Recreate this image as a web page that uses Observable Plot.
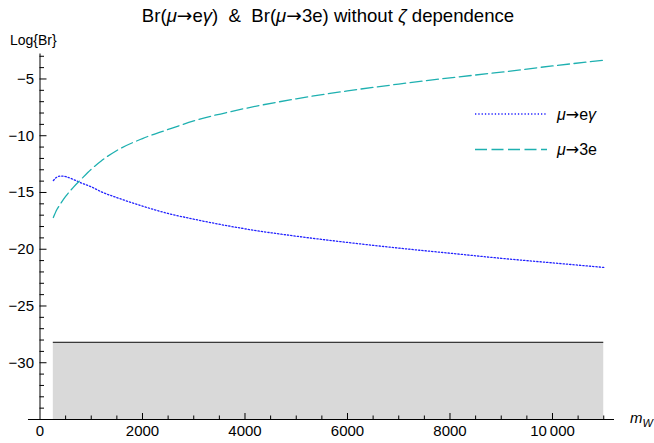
<!DOCTYPE html>
<html><head><meta charset="utf-8">
<script src="https://cdn.jsdelivr.net/npm/d3@7"></script>
<script src="https://cdn.jsdelivr.net/npm/@observablehq/plot@0.6"></script>
<style>
body{margin:0;background:#fff;}
#wrap{position:relative;width:654px;height:443px;font-family:"Liberation Sans",Arial,sans-serif;color:#000;}
#wrap svg{display:block;}
.abs{position:absolute;white-space:nowrap;line-height:1;}
.arr{font-family:"DejaVu Sans",sans-serif;}
</style></head><body>
<div id="wrap"></div>
<script>
// ---- data ----
const mW = [260, 330, 400, 500, 650, 800, 1000, 1200, 1500, 2000, 2500, 3000, 4000, 5000, 6000, 7000, 8000, 9000, 10000, 11000];
const brMuEGamma = [-13.95, -13.65, -13.55, -13.6, -13.85, -14.15, -14.5, -14.95, -15.45, -16.2, -16.85, -17.35, -18.2, -18.85, -19.4, -19.9, -20.35, -20.8, -21.2, -21.6];
const brMu3e = [-17.2, -16.5, -16.0, -15.35, -14.55, -13.85, -12.95, -12.2, -11.3, -10.25, -9.45, -8.7, -7.6, -6.75, -6.05, -5.45, -4.9, -4.4, -3.85, -3.35];
const boundRange = [260, 11000];
const boundLevel = -28.2;
const xMajorTicks = [0, 2000, 4000, 6000, 8000, 10000];
const xMinorTicks = [500, 1000, 1500, 2500, 3000, 3500, 4500, 5000, 5500, 6500, 7000, 7500, 8500, 9000, 9500, 10500, 11000];
const yMajorTicks = [-30, -25, -20, -15, -10, -5];
const yMinorTicks = [-34, -33, -32, -31, -29, -28, -27, -26, -24, -23, -22, -21, -19, -18, -17, -16, -14, -13, -12, -11, -9, -8, -7, -6, -4, -3];
const xDomain = [0, 11210];
const yDomain = [-35, -2.8];
const seriesNames = ["μ→eγ", "μ→3e"];

const W = 654, H = 443, mL = 39.5, mR = 40, mT = 53.5, mB = 24;
const frameW = W - mL - mR, frameH = H - mT - mB;

const rowsEG = mW.map((m, i) => ({m, v: brMuEGamma[i]}));
const rows3e = mW.map((m, i) => ({m, v: brMu3e[i]}));

const fmtY = d => d < 0 ? "\u2212" + (-d) : String(d);
const fmtX = d => d >= 10000 ? String(d).replace(/(\d+)(\d{3})$/, "$1\u2009$2") : String(d);

const blue = "#2020ff", teal = "#1eb0b0";

const chart = Plot.plot({
  width: W, height: H,
  marginLeft: mL, marginRight: mR, marginTop: mT, marginBottom: mB,
  x: {domain: xDomain, axis: null},
  y: {domain: yDomain, axis: null},
  style: {fontFamily: "'Liberation Sans', Arial, sans-serif", background: "#fff"},
  marks: [
    Plot.areaY(boundRange, {x: d => d, y1: yDomain[0], y2: boundLevel, fill: "#d9d9d9"}),
    Plot.ruleY([boundLevel], {x1: boundRange[0], x2: boundRange[1], stroke: "#3a3a3a", strokeWidth: 1.2}),
    Plot.line(rowsEG, {x: "m", y: "v", stroke: blue, strokeWidth: 1.3, strokeDasharray: "1.3,2", curve: "monotone-x"}),
    Plot.line(rows3e, {x: "m", y: "v", stroke: teal, strokeWidth: 1.3, strokeDasharray: "12,4.5", curve: "monotone-x"}),
    // axes lines
    Plot.ruleY([yDomain[0]], {x1: -225, x2: xDomain[1], stroke: "#000", strokeWidth: 1}),
    Plot.ruleX([0], {y1: yDomain[0], y2: yDomain[1], stroke: "#000", strokeWidth: 1}),
    // ticks
    Plot.tickY(yMajorTicks, {y: d => d, insetRight: frameW - 7, stroke: "#000"}),
    Plot.tickY(yMinorTicks, {y: d => d, insetRight: frameW - 4.5, stroke: "#000"}),
    Plot.tickX(xMajorTicks.filter(d => d > 0), {x: d => d, insetTop: frameH - 6, stroke: "#000"}),
    Plot.tickX(xMinorTicks, {x: d => d, insetTop: frameH - 3.5, stroke: "#000"}),
    // tick labels
    Plot.text(yMajorTicks, {y: d => d, text: fmtY, frameAnchor: "left", textAnchor: "end", dx: -6, fontSize: 15}),
    Plot.text(xMajorTicks, {x: d => d, text: fmtX, frameAnchor: "bottom", lineAnchor: "top", dy: 6, fontSize: 15})
  ]
});
const wrap = document.getElementById("wrap");
wrap.appendChild(chart);

function addDiv(html, style) {
  const d = document.createElement("div");
  d.className = "abs";
  d.innerHTML = html;
  Object.assign(d.style, style);
  wrap.appendChild(d);
  return d;
}
addDiv("Br(<i>μ</i><span class='arr'>→</span>e<i>γ</i>)&nbsp; &amp; &nbsp;Br(<i>μ</i><span class='arr'>→</span>3e) without <i>ζ</i> dependence",
  {left: "1px", width: W + "px", textAlign: "center", top: "7px", fontSize: "18.6px"});
addDiv("Log{Br}", {left: "10px", top: "33px", fontSize: "14px"});
addDiv("<i>m</i><sub style='font-size:11px;vertical-align:-4px'><i>W</i></sub>", {left: "630px", top: "410px", fontSize: "15px"});

// legend
const ns = "http://www.w3.org/2000/svg";
const lg = document.createElementNS(ns, "svg");
lg.setAttribute("width", W); lg.setAttribute("height", H);
Object.assign(lg.style, {position: "absolute", left: "0px", top: "0px", pointerEvents: "none"});
[[114, blue, "1.3,2"], [149.5, teal, "12,4.5"]].forEach(([y, c, da], i) => {
  const l = document.createElementNS(ns, "line");
  l.setAttribute("x1", 475); l.setAttribute("x2", 547);
  l.setAttribute("y1", y); l.setAttribute("y2", y);
  l.setAttribute("stroke", c); l.setAttribute("stroke-width", 1.3);
  l.setAttribute("stroke-dasharray", da);
  lg.appendChild(l);
  const t = document.createElementNS(ns, "text");
  t.setAttribute("x", 557); t.setAttribute("y", y);
  t.setAttribute("dy", "0.35em");
  t.setAttribute("font-size", 16);
  t.setAttribute("font-family", "'Liberation Sans', Arial, sans-serif");
  const name = seriesNames[i];
  const parts = name.split(/([μγ→])/).filter(s => s);
  parts.forEach(p => {
    const ts = document.createElementNS(ns, "tspan");
    ts.textContent = p;
    if (p === "μ" || p === "γ") ts.setAttribute("font-style", "italic");
    if (p === "→") ts.setAttribute("font-family", "'DejaVu Sans', sans-serif");
    t.appendChild(ts);
  });
  lg.appendChild(t);
});
wrap.appendChild(lg);
</script>
</body></html>
